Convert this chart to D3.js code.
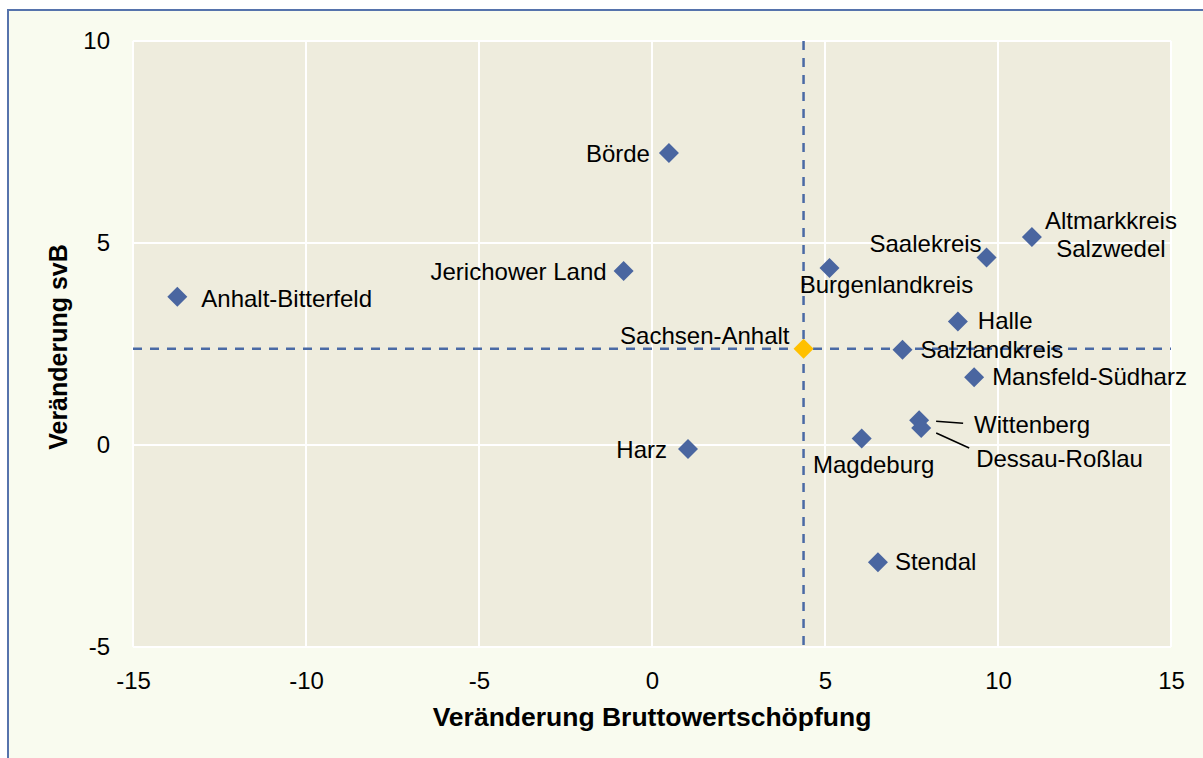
<!DOCTYPE html>
<html>
<head>
<meta charset="utf-8">
<script src="https://cdn.jsdelivr.net/npm/d3@7"></script>
<style>
  body { margin: 0; background: #ffffff; }
  svg { display: block; font-family: "Liberation Sans", Arial, sans-serif; }
  .ticklabel { font-size: 24px; fill: #000; }
  .axeslabel { font-size: 25px; font-weight: bold; fill: #000; }
  .ptlabel { font-size: 24px; fill: #000; }
</style>
</head>
<body>
<script>
// data
var regions = ["Börde", "Anhalt-Bitterfeld", "Jerichower Land", "Burgenlandkreis", "Saalekreis",
               "Altmarkkreis Salzwedel", "Halle", "Salzlandkreis", "Mansfeld-Südharz", "Wittenberg",
               "Dessau-Roßlau", "Magdeburg", "Harz", "Stendal"];
var bws = [0.49, -13.72, -0.82, 5.13, 9.67, 10.98, 8.84, 7.24, 9.31, 7.72, 7.78, 6.06, 1.04, 6.53];
var svb = [7.23, 3.67, 4.31, 4.38, 4.64, 5.15, 3.06, 2.36, 1.68, 0.61, 0.42, 0.16, -0.1, -2.9];

var landName = "Sachsen-Anhalt";
var landBws = 4.38;
var landSvb = 2.38;

var xTicks = [-15, -10, -5, 0, 5, 10, 15];
var yTicks = [-5, 0, 5, 10];

// label placement relative to the marker (px)
var placement = {
  "Börde":                 {dx: -19, dy: 9,  anchor: "end"},
  "Anhalt-Bitterfeld":     {dx: 24,  dy: 10, anchor: "start"},
  "Jerichower Land":       {dx: -17, dy: 9,  anchor: "end"},
  "Burgenlandkreis":       {dx: 57,  dy: 25, anchor: "middle"},
  "Saalekreis":            {dx: -5,  dy: -6, anchor: "end"},
  "Altmarkkreis Salzwedel":{dx: 79,  dy: -8, anchor: "middle", lines: ["Altmarkkreis", "Salzwedel"]},
  "Halle":                 {dx: 20,  dy: 8,  anchor: "start"},
  "Salzlandkreis":         {dx: 18,  dy: 8,  anchor: "start"},
  "Mansfeld-Südharz":      {dx: 18,  dy: 8,  anchor: "start"},
  "Wittenberg":            {dx: 55,  dy: 13, anchor: "start", leader: [17, 1, 44, 3]},
  "Dessau-Roßlau":         {dx: 55,  dy: 39, anchor: "start", leader: [15, 5, 48, 20]},
  "Magdeburg":             {dx: 12,  dy: 34, anchor: "middle"},
  "Harz":                  {dx: -21, dy: 9,  anchor: "end"},
  "Stendal":               {dx: 17,  dy: 8,  anchor: "start"},
  "Sachsen-Anhalt":        {dx: -14, dy: -5, anchor: "end"}
};

var W = 1203, H = 758;
var margin = {top: 41, right: 32, bottom: 111, left: 133};
var width = W - margin.left - margin.right,
    height = H - margin.top - margin.bottom;

var svg0 = d3.select("body").append("svg")
    .attr("width", W)
    .attr("height", H);

// outer chart frame
svg0.append("rect")
    .attr("x", 8).attr("y", 10)
    .attr("width", W + 20).attr("height", H + 20)
    .attr("fill", "#f9fbef")
    .attr("stroke", "#5673ac")
    .attr("stroke-width", 2);

var svg = svg0.append("g")
    .attr("transform", "translate(" + margin.left + "," + margin.top + ")");

var xScale = d3.scaleLinear().domain([-15, 15]).range([0, width]);
var yScale = d3.scaleLinear().domain([-5, 10]).range([height, 0]);

// plot area
svg.append("rect")
    .attr("width", width).attr("height", height)
    .attr("fill", "#eeecdd");

// grid
svg.append("g").selectAll("line").data(xTicks).enter().append("line")
    .attr("x1", function(d) { return xScale(d); })
    .attr("x2", function(d) { return xScale(d); })
    .attr("y1", 0).attr("y2", height)
    .attr("stroke", "#ffffff").attr("stroke-width", 2);
svg.append("g").selectAll("line").data(yTicks).enter().append("line")
    .attr("y1", function(d) { return yScale(d); })
    .attr("y2", function(d) { return yScale(d); })
    .attr("x1", 0).attr("x2", width)
    .attr("stroke", "#ffffff").attr("stroke-width", 2);

// axes (labels only)
var xAxis = svg.append("g")
    .attr("transform", "translate(0," + height + ")")
    .call(d3.axisBottom(xScale).tickValues(xTicks).tickSize(0).tickPadding(25)
      .tickFormat(function(d) { return String(d); }));
var yAxis = svg.append("g")
    .call(d3.axisLeft(yScale).tickValues(yTicks).tickSize(0).tickPadding(23)
      .tickFormat(function(d) { return String(d); }));
[xAxis, yAxis].forEach(function(a) {
  a.select(".domain").remove();
  a.selectAll("text").attr("class", "ticklabel").attr("font-family", null).attr("font-size", null);
});
yAxis.selectAll("text").attr("dy", "0.3em");

// reference lines for the state values
svg.append("line")
    .attr("x1", xScale(landBws)).attr("x2", xScale(landBws))
    .attr("y1", 0).attr("y2", height)
    .attr("stroke", "#4a6aa5").attr("stroke-width", 2.5)
    .attr("stroke-dasharray", "9,8");
svg.append("line")
    .attr("x1", 0).attr("x2", width)
    .attr("y1", yScale(landSvb)).attr("y2", yScale(landSvb))
    .attr("stroke", "#4a6aa5").attr("stroke-width", 2.5)
    .attr("stroke-dasharray", "9,8");

var pts = regions.map(function(r, i) { return {name: r, x: bws[i], y: svb[i], color: "#4a66a0"}; });
pts.push({name: landName, x: landBws, y: landSvb, color: "#ffc000"});

var diamond = d3.symbol().type(d3.symbolSquare).size(200);

svg.selectAll(".dot").data(pts).enter().append("path")
    .attr("class", "dot")
    .attr("d", diamond)
    .attr("transform", function(d) {
      return "translate(" + xScale(d.x) + "," + yScale(d.y) + ") rotate(45)";
    })
    .attr("fill", function(d) { return d.color; });

// labels
pts.forEach(function(d) {
  var p = placement[d.name];
  var cx = xScale(d.x), cy = yScale(d.y);
  var t = svg.append("text")
      .attr("class", "ptlabel")
      .attr("text-anchor", p.anchor)
      .attr("x", cx + p.dx)
      .attr("y", cy + p.dy);
  if (p.lines) {
    p.lines.forEach(function(l, k) {
      t.append("tspan").attr("x", cx + p.dx).attr("dy", k === 0 ? 0 : 28).text(l);
    });
  } else {
    t.text(d.name);
  }
  if (p.leader) {
    svg.append("line")
        .attr("x1", cx + p.leader[0]).attr("y1", cy + p.leader[1])
        .attr("x2", cx + p.leader[2]).attr("y2", cy + p.leader[3])
        .attr("stroke", "#000").attr("stroke-width", 1.5);
  }
});

// axis titles
svg.append("text")
    .attr("class", "axeslabel")
    .attr("x", width / 2)
    .attr("y", height + 79)
    .style("text-anchor", "middle")
    .style("font-size", "26.5px")
    .text("Veränderung Bruttowertschöpfung");

svg.append("text")
    .attr("class", "axeslabel")
    .attr("transform", "translate(" + (67 - margin.left) + "," + (306) + ") rotate(-90)")
    .style("text-anchor", "middle")
    .text("Veränderung svB");
</script>
</body>
</html>
